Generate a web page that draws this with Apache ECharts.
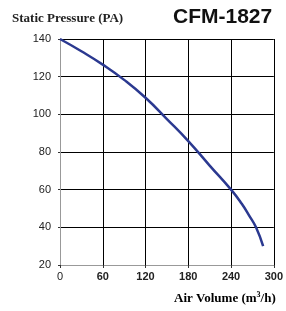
<!DOCTYPE html>
<html><head><meta charset="utf-8">
<script src="https://cdn.jsdelivr.net/npm/echarts@6/dist/echarts.min.js"></script>
<style>html,body{margin:0;padding:0;background:#fff}#c{width:286px;height:311px}</style>
</head><body><div id="c"></div>
<script>
var airVolume = [0, 30, 60, 90, 120, 150, 180, 210, 240, 255, 265, 275, 285];
var pressure  = [140, 133.5, 126.4, 118.3, 108.8, 97.5, 85.8, 72.8, 60, 52.5, 46.5, 40, 30];
var xTicks = [0, 60, 120, 180, 240, 300];
var yTicks = [20, 40, 60, 80, 100, 120, 140];
var chartTitle = 'CFM-1827';
var yTitle = 'Static Pressure (PA)';

var chart = echarts.init(document.getElementById('c'), null, {renderer: 'canvas'});
var pts = airVolume.map(function (x, i) { return [x, pressure[i]]; });
chart.setOption({
  animation: false,
  backgroundColor: '#fff',
  grid: {left: 60, right: 11, top: 39, bottom: 46},
  graphic: [
    {type: 'text', left: 12, top: 12, style: {text: yTitle, font: 'bold 13px "Liberation Serif"', fill: '#222'}},
    {type: 'text', left: 173, top: 7, style: {text: chartTitle, font: 'bold 21px "Liberation Sans"', fill: '#111'}},
    {type: 'text', left: 174, top: 291, style: {
      text: '{a|Air Volume (m}{s|3}{a|/h)}',
      rich: {
        a: {fontFamily: 'Liberation Serif', fontWeight: 'bold', fontSize: 13, color: '#222'},
        s: {fontFamily: 'Liberation Serif', fontWeight: 'bold', fontSize: 8, color: '#222', padding: [0, 0, 7, 0]}
      }
    }}
  ],
  xAxis: {
    type: 'value', min: xTicks[0], max: xTicks[xTicks.length - 1], interval: 60,
    axisLine: {show: true, lineStyle: {color: '#999', width: 1}},
    axisTick: {show: true, length: 3, lineStyle: {color: '#333'}},
    splitLine: {show: true, lineStyle: {color: '#000', width: 1}},
    axisLabel: {
      margin: 6,
      formatter: function (v) { return v === 0 ? '{n|0}' : '{b|' + v + '}'; },
      rich: {
        n: {fontFamily: 'Liberation Sans', fontSize: 11, color: '#222'},
        b: {fontFamily: 'Liberation Sans', fontWeight: 'bold', fontSize: 11, color: '#222'}
      }
    }
  },
  yAxis: {
    type: 'value', min: yTicks[0], max: yTicks[yTicks.length - 1], interval: 20,
    axisLine: {show: true, lineStyle: {color: '#999', width: 1}},
    axisTick: {show: true, length: 2, lineStyle: {color: '#333'}},
    splitLine: {show: true, lineStyle: {color: '#000', width: 1}},
    axisLabel: {margin: 9, fontFamily: 'Liberation Sans', fontSize: 11, color: '#222'}
  },
  series: [{
    type: 'line', data: pts, smooth: true, showSymbol: false,
    lineStyle: {color: '#2b3990', width: 2.5}
  }]
});
</script></body></html>
